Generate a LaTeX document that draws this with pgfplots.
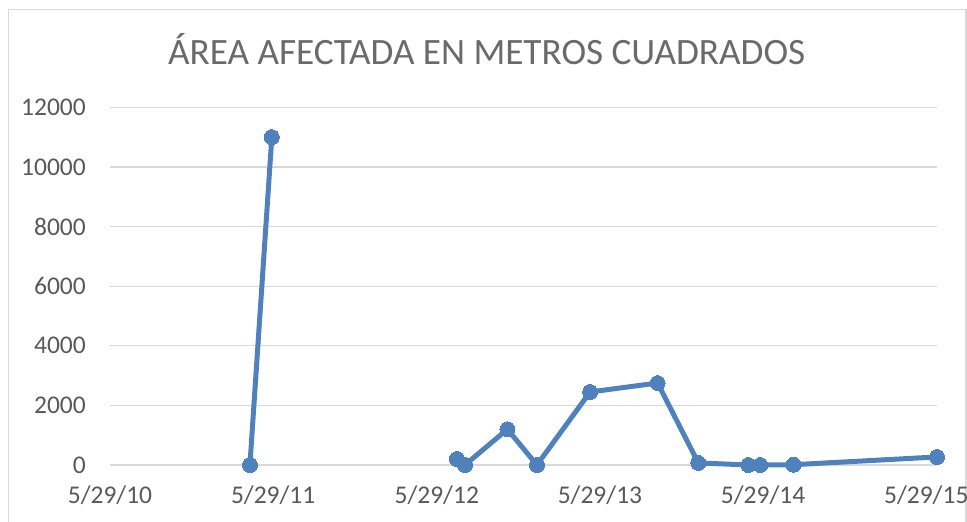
\documentclass[border=0pt]{standalone}
\usepackage{fontspec}
\setmainfont{Carlito}
\usepackage{pgfplots}
\pgfplotsset{compat=1.18}

\definecolor{serie}{HTML}{4F81BD}
\definecolor{rejilla}{HTML}{D9D9D9}
\definecolor{texto}{HTML}{595959}

% x = days since 5/29/2010; nan = missing value (gap in the line)
\pgfplotstableread{
dia valor
313  0
362  11000
560  nan
776  200
794  0
889  1200
955  0
1074 2450
1225 2750
1316 70
1428 0
1455 0
1529 10
1850 270
}\area

\begin{document}
\begin{tikzpicture}
\useasboundingbox (-110bp,-57bp) rectangle (857bp,465bp);
\draw[rejilla, line width=1.5bp] (-101.5bp,-80bp) -- (-101.5bp,455.5bp) -- (856bp,455.5bp) -- (856bp,-80bp);
\node[anchor=base, text=texto!90, font=\fontsize{37.2bp}{42bp}\selectfont, inner sep=0pt]
  at (376.7bp,400bp) {ÁREA AFECTADA EN METROS CUADRADOS};
\begin{axis}[
  scale only axis,
  width  = 827bp,
  height = 357.7bp,
  xmin = 0, xmax = 1850,
  ymin = 0, ymax = 12000,
  xtick = {0,365,731,1096,1461,1826},
  xticklabels = {5/29/10,5/29/11,5/29/12,5/29/13,5/29/14,5/29/15},
  ytick = {0,2000,...,12000},
  scaled y ticks = false,
  ymajorgrids = true,
  grid style = {rejilla, line width=1.2bp},
  axis line style = {draw=none},
  major tick length = 0pt,
  tick style = {draw=none},
  /pgf/number format/assume math mode=true,
  /pgf/number format/1000 sep={},
  ticklabel style = {text=texto, font=\fontsize{25.5bp}{28bp}\selectfont, inner sep=0pt},
  yticklabel style = {anchor=east, xshift=-24bp},
  xticklabel style = {anchor=north, yshift=-21bp},
  unbounded coords = jump,
  clip = false,
]
  \addplot[serie, line width=5bp, line join=round,
           mark=*, mark size=7.5bp, mark options={fill=serie, draw=serie, line width=0pt}]
    table[x=dia, y=valor] {\area};
\end{axis}
\end{tikzpicture}
\end{document}
